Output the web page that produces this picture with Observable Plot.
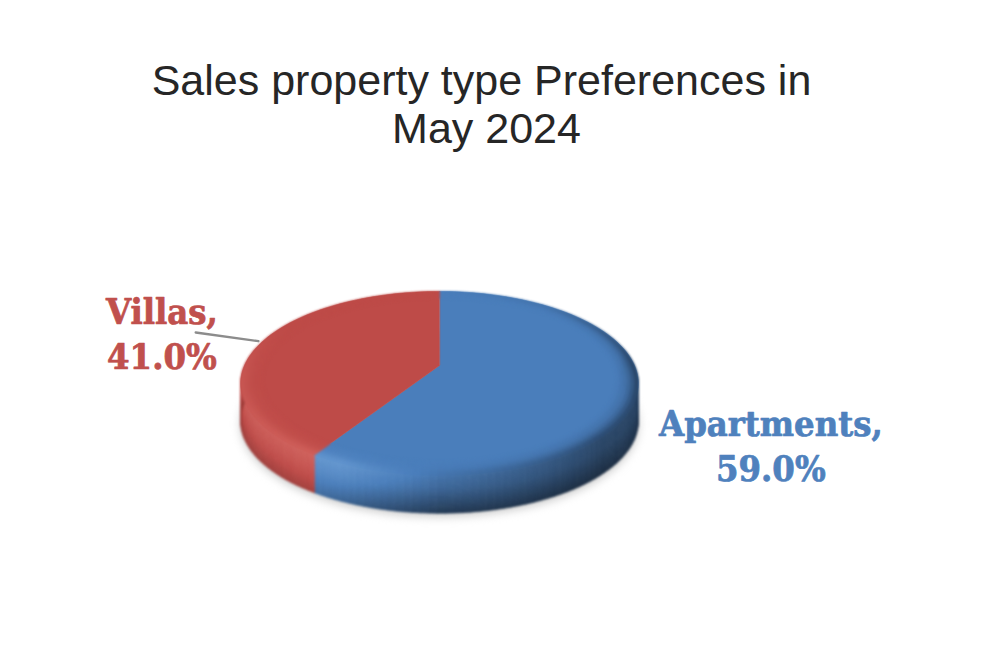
<!DOCTYPE html>
<html>
<head>
<meta charset="utf-8">
<script src="https://cdn.jsdelivr.net/npm/d3@7"></script>
<script src="https://cdn.jsdelivr.net/npm/@observablehq/plot@0.6"></script>
<style>
  html,body{margin:0;padding:0;background:#fff;overflow:hidden}
  #title{height:160px;box-sizing:border-box;padding-top:56px;text-align:center;width:963px;
    font:43px/48px "Liberation Sans",Arial,sans-serif;color:#262626;white-space:nowrap}
  #title span{position:relative;left:5px}
  svg{display:block}
</style>
</head>
<body>
<div id="title">Sales property type Preferences in<br><span>May 2024</span></div>
<div id="chart"></div>
<script>
// ---- chart values
const categories = ["Apartments", "Villas"];
const shares = [59.0, 41.0];
const baseColors = ["#4a7ebb", "#be4b48"];
const textColors = ["#4f81bd", "#c0504d"];

// ---- label placement, in pie-radius units
const labelX = [1.665, -1.395];
const labelY = [0.655, -0.56];
const leaderX = [-1.225, -0.91];
const leaderY = [-0.555, -0.46];

// ---- 3D view of the disc
const persp = 0.196, scaleX = 0.98, scaleY = 0.962, centerShift = -0.196;
const wallHeight = 0.41, rimRadius = 0.89;
const project = (theta, r, h) => {
  const X = r * Math.sin(theta), Y = -r * Math.cos(theta), d = 1 - persp * Y;
  return [scaleX * X / d, scaleY * Y / d + centerShift + h];
};

const rad = (d) => d * Math.PI / 180;
const arcs = d3.pie().sort(null).value((d) => d.share)(
  categories.map((name, i) => ({name, share: shares[i], color: baseColors[i]}))
);

// shading of the bevel and wall, by angle around the disc and depth down the edge
const lum = d3.scaleLinear().domain([0, 40, 60, 90, 135, 180, 205, 225, 270, 300, 360])
  .range([0, -.12, -.35, -.62, -.55, -.1, .34, .28, .14, 0, 0]);
const deep = d3.scaleLinear().domain([0, 90, 135, 180, 212, 270, 360])
  .range([0, .5, .62, .62, .25, .25, 0]);
const band = d3.scaleLinear().domain([0, .15, .3, .55, 1]).range([0, .2, .9, .7, .25]).clamp(true);
const drop = d3.scaleLinear().domain([.3, .55, 1]).range([0, .25, 1]).clamp(true);
const makeShader = (light, dark) => (base, theta, t) => {
  const deg = theta * 180 / Math.PI;
  const s = lum(deg) * band(t) - deep(deg) * drop(t);
  return s >= 0 ? d3.interpolateRgb(base, light)(s).toString()
                : d3.interpolateRgb(base, dark)(-s).toString();
};
const shaders = [makeShader("#9fd0ff", "#0a1018"), makeShader("#ff9a90", "#200808")];
const surface = (theta, t) => t < .3
  ? project(theta, rimRadius + (1 - rimRadius) * t / .3, 0)
  : project(theta, 1, wallHeight * (t - .3) / .7);

// polygons
const face = [], wallQuads = [], rimQuads = [], shadow = [];
let id = 0;
function addQuad(target, theta0, theta1, t0, t1, base, shader) {
  const fill = shader(base, (theta0 + theta1) / 2, (t0 + t1) / 2);
  [[theta0, t0], [theta1, t0], [theta1, t1], [theta0, t1]].forEach(([a, t]) => {
    const [x, y] = surface(a, t);
    target.push({x, y, z: id, fill});
  });
  id++;
}
arcs.forEach((arc, k) => {
  const shader = shaders[k];
  const start = arc.startAngle, end = arc.endAngle, n = Math.ceil((end - start) / rad(2));
  const [vx, vy] = project(0, 0, 0);
  face.push({x: vx, y: vy, z: arc.data.name, fill: arc.data.color});
  for (let i = 0; i <= n; i++) {
    const a = start + (end - start) * i / n;
    const [x, y] = project(a, 1, 0);
    face.push({x, y, z: arc.data.name, fill: arc.data.color});
  }
  for (let i = 0; i < n; i++) {
    const a0 = start + (end - start) * i / n, a1 = start + (end - start) * (i + 1) / n;
    for (let j = 0; j < 6; j++) addQuad(rimQuads, a0, a1, .05 * j, .05 * (j + 1), arc.data.color, shader);
    const mid = (a0 + a1) / 2;
    if (mid > rad(78) && mid < rad(282))
      for (let j = 0; j < 14; j++) addQuad(wallQuads, a0, a1, .3 + .7 * j / 14, .3 + .7 * (j + 1) / 14, arc.data.color, shader);
  }
});
for (let i = 0; i <= 120; i++) {
  const a = rad(i * 3);
  const [x, y] = project(a, 1.0, wallHeight + .035);
  shadow.push({x, y});
}
const labels = arcs.map((arc, i) => ({
  text: `${arc.data.name},\n${arc.data.share.toFixed(1)}%`,
  x: labelX[i], y: labelY[i], fill: textColors[i]
}));
const leader = leaderX.map((x, i) => ({x, y: leaderY[i]}));

const plot = Plot.plot({
  width: 1000, height: 507, margin: 0,
  x: {domain: [-1, 1], range: [240, 638], axis: null},
  y: {domain: [-1, 1], range: [131, 315], axis: null},
  color: {type: "identity"},
  marks: [
    Plot.line(shadow, {x: "x", y: "y", fill: "#c9c9c9", stroke: "none", imageFilter: "blur(5px)"}),
    Plot.line(face, {x: "x", y: "y", z: "z", fill: "fill", stroke: "fill", strokeWidth: 0.5, curve: "linear-closed", imageFilter: "blur(0.5px)"}),
    Plot.line([...wallQuads, ...rimQuads], {x: "x", y: "y", z: "z", fill: "fill", stroke: "fill", strokeWidth: 0.6, curve: "linear-closed", imageFilter: "blur(0.8px)"}),
    Plot.line(leader, {x: "x", y: "y", stroke: "#8c8c8c", strokeWidth: 2.4, imageFilter: "blur(0.5px)"}),
    Plot.text(labels, {x: "x", y: "y", text: "text", fill: "fill", stroke: "fill", strokeWidth: 0.7, fontSize: 36, fontWeight: "bold",
      fontFamily: "'DejaVu Serif Condensed','DejaVu Serif',serif", lineHeight: 1.26, textAnchor: "middle"})
  ]
});
document.getElementById("chart").appendChild(plot);
</script>
</body>
</html>
